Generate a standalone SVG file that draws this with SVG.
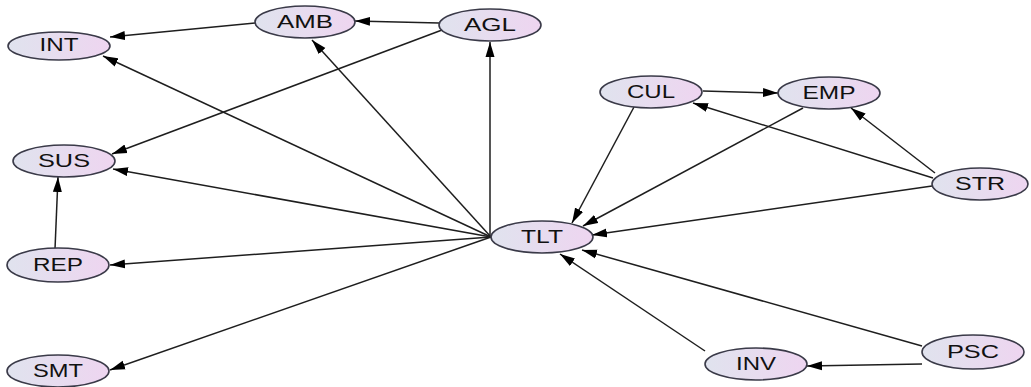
<svg xmlns="http://www.w3.org/2000/svg" width="1031" height="387" viewBox="0 0 1031 387">
<style>
.n ellipse{fill:url(#g);stroke:#3a3a48;stroke-width:1.6}
.n text{font-family:"Liberation Sans",Arial,sans-serif;font-size:18px;fill:#111;text-anchor:middle}
.e line{stroke:#1e1e1e;stroke-width:1.5;marker-end:url(#a)}
</style>
<defs>
<linearGradient id="g" x1="0" y1="0" x2="1" y2="0">
<stop offset="0" stop-color="#e0e3ee"/>
<stop offset="1" stop-color="#eed5f0"/>
</linearGradient>
<marker id="a" markerUnits="userSpaceOnUse" markerWidth="16" markerHeight="10" refX="15" refY="5" orient="auto">
<path d="M0,0.5 L15,5 L0,9.5 Z" fill="#000"/>
</marker>
</defs>
<rect width="1031" height="387" fill="#fff"/>
<g id="connectors" class="e">
<line x1="255" y1="23" x2="110" y2="37"/>
<line x1="439" y1="23" x2="355" y2="21"/>
<line x1="442" y1="30" x2="112" y2="154"/>
<line x1="490" y1="237" x2="490" y2="42"/>
<line x1="491" y1="237" x2="312" y2="40"/>
<line x1="491" y1="237" x2="103" y2="56"/>
<line x1="491" y1="237" x2="113" y2="169"/>
<line x1="491" y1="237" x2="110" y2="265"/>
<line x1="491" y1="237" x2="110" y2="370"/>
<line x1="55" y1="249" x2="58" y2="177"/>
<line x1="703" y1="91" x2="778" y2="93"/>
<line x1="634" y1="107" x2="572" y2="223"/>
<line x1="803" y1="108" x2="583" y2="226"/>
<line x1="933" y1="178" x2="693" y2="103"/>
<line x1="935" y1="173" x2="851" y2="108"/>
<line x1="932" y1="186" x2="592" y2="235"/>
<line x1="922" y1="346" x2="582" y2="250"/>
<line x1="922" y1="364" x2="807" y2="366"/>
<line x1="705" y1="351" x2="560" y2="254"/>
</g>
<g id="INT" class="n"><ellipse cx="59" cy="46" rx="51" ry="14"/><text x="59" y="51" textLength="39" lengthAdjust="spacingAndGlyphs">INT</text></g>
<g id="AMB" class="n"><ellipse cx="305" cy="22" rx="50" ry="16"/><text x="305" y="28" textLength="56" lengthAdjust="spacingAndGlyphs">AMB</text></g>
<g id="AGL" class="n"><ellipse cx="490" cy="25" rx="51" ry="16"/><text x="490" y="31" textLength="52" lengthAdjust="spacingAndGlyphs">AGL</text></g>
<g id="CUL" class="n"><ellipse cx="651" cy="92" rx="51" ry="16"/><text x="651" y="98" textLength="48" lengthAdjust="spacingAndGlyphs">CUL</text></g>
<g id="EMP" class="n"><ellipse cx="829" cy="93" rx="51" ry="16"/><text x="829" y="99" textLength="53" lengthAdjust="spacingAndGlyphs">EMP</text></g>
<g id="STR" class="n"><ellipse cx="980" cy="184" rx="48" ry="16"/><text x="980" y="190" textLength="50" lengthAdjust="spacingAndGlyphs">STR</text></g>
<g id="SUS" class="n"><ellipse cx="64" cy="161" rx="51" ry="16"/><text x="64" y="167" textLength="52" lengthAdjust="spacingAndGlyphs">SUS</text></g>
<g id="REP" class="n"><ellipse cx="58" cy="265" rx="51" ry="17"/><text x="58" y="271" textLength="50" lengthAdjust="spacingAndGlyphs">REP</text></g>
<g id="TLT" class="n"><ellipse cx="542" cy="237" rx="51" ry="16"/><text x="542" y="243" textLength="42" lengthAdjust="spacingAndGlyphs">TLT</text></g>
<g id="INV" class="n"><ellipse cx="756" cy="364" rx="51" ry="16"/><text x="756" y="370" textLength="40" lengthAdjust="spacingAndGlyphs">INV</text></g>
<g id="PSC" class="n"><ellipse cx="973" cy="352" rx="51" ry="17"/><text x="973" y="358" textLength="52" lengthAdjust="spacingAndGlyphs">PSC</text></g>
<g id="SMT" class="n"><ellipse cx="58" cy="371" rx="51" ry="16"/><text x="58" y="377" textLength="50" lengthAdjust="spacingAndGlyphs">SMT</text></g>
</svg>
